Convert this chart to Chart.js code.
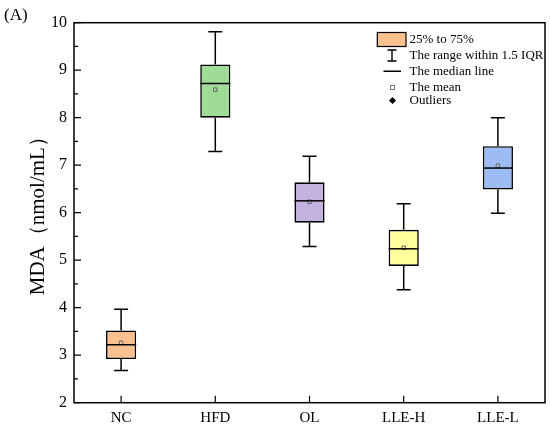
<!DOCTYPE html>
<html>
<head>
<meta charset="utf-8">
<script src="https://cdn.jsdelivr.net/npm/chart.js@4.4.0/dist/chart.umd.min.js"></script>
<style>
html,body{margin:0;padding:0;background:#fff;}
#wrap{width:550px;height:428px;position:relative;}
</style>
</head>
<body>
<div id="wrap"><canvas id="c"></canvas></div>
<script>
const categories = ['NC', 'HFD', 'OL', 'LLE-H', 'LLE-L'];
const whiskerLow = [2.68, 7.29, 5.29, 4.38, 5.99];
const q1 = [2.92, 8.00, 5.79, 4.88, 6.49];
const median = [3.22, 8.72, 6.25, 5.24, 6.94];
const q3 = [3.52, 9.12, 6.64, 5.64, 7.40];
const whiskerHigh = [3.97, 9.81, 7.19, 6.19, 8.00];
const means = [3.26, 8.59, 6.23, 5.26, 6.99];
const boxColors = ['#FAC090', '#A0DC98', '#C3B1DE', '#FFFF9E', '#9DBBF5'];
const yMin = 2, yMax = 10, yStep = 1;
const legendLabels = ['25% to 75%', 'The range within 1.5 IQR', 'The median line', 'The mean', 'Outliers'];
const titleText = '(A)';
const yTitle = 'MDA\uFF08nmol/mL\uFF09';

const SERIF = "'Liberation Serif','Times New Roman',serif";

const boxPlugin = {
  id: 'boxPlugin',
  beforeDatasetsDraw(chart) {
    const ctx = chart.ctx, x = chart.scales.x, y = chart.scales.y;
    ctx.save();
    ctx.strokeStyle = '#000';
    ctx.lineWidth = 1.5;
    categories.forEach((c, i) => {
      const cx = x.getPixelForValue(i);
      const yl = y.getPixelForValue(whiskerLow[i]);
      const yh = y.getPixelForValue(whiskerHigh[i]);
      const y1 = y.getPixelForValue(q1[i]);
      const y3 = y.getPixelForValue(q3[i]);
      ctx.beginPath();
      ctx.moveTo(cx, yh); ctx.lineTo(cx, y3);
      ctx.moveTo(cx, y1); ctx.lineTo(cx, yl);
      ctx.moveTo(cx - 7, yh); ctx.lineTo(cx + 7, yh);
      ctx.moveTo(cx - 7, yl); ctx.lineTo(cx + 7, yl);
      ctx.stroke();
    });
    ctx.restore();
  },
  afterDatasetsDraw(chart) {
    const ctx = chart.ctx, x = chart.scales.x, y = chart.scales.y;
    const meta = chart.getDatasetMeta(0);
    ctx.save();
    ctx.strokeStyle = '#000';
    ctx.lineWidth = 1.5;
    categories.forEach((c, i) => {
      const bar = meta.data[i];
      const half = bar.width / 2;
      const cx = x.getPixelForValue(i);
      const ym = y.getPixelForValue(median[i]);
      ctx.beginPath();
      ctx.moveTo(cx - half, ym); ctx.lineTo(cx + half, ym);
      ctx.stroke();
    });
    ctx.restore();
  },
  afterDraw(chart) {
    const ctx = chart.ctx, a = chart.chartArea, x = chart.scales.x, y = chart.scales.y;
    ctx.save();
    // frame
    ctx.strokeStyle = '#000';
    ctx.lineWidth = 1.5;
    ctx.strokeRect(a.left, a.top, a.right - a.left, a.bottom - a.top);
    // ticks inward
    ctx.lineWidth = 1.2;
    ctx.beginPath();
    for (let v = yMin; v <= yMax; v += yStep) {
      const py = y.getPixelForValue(v);
      ctx.moveTo(a.left, py); ctx.lineTo(a.left + 7, py);
      if (v < yMax) {
        const pm = y.getPixelForValue(v + yStep / 2);
        ctx.moveTo(a.left, pm); ctx.lineTo(a.left + 4, pm);
      }
    }
    categories.forEach((c, i) => {
      const px = x.getPixelForValue(i);
      ctx.moveTo(px, a.bottom); ctx.lineTo(px, a.bottom - 7);
    });
    ctx.stroke();

    // title
    ctx.fillStyle = '#000';
    ctx.font = '17px ' + SERIF;
    ctx.textAlign = 'left';
    ctx.textBaseline = 'alphabetic';
    ctx.fillText(titleText, 4, 20);

    // y axis title
    ctx.save();
    ctx.translate(43.5, (a.top + a.bottom) / 2 - 2);
    ctx.rotate(-Math.PI / 2);
    ctx.font = '21px ' + SERIF;
    ctx.textAlign = 'center';
    ctx.textBaseline = 'alphabetic';
    ctx.fillText(yTitle, 0, 0);
    ctx.restore();

    // legend
    const lx = 392, tx = 409.5;
    const rows = [40, 55.5, 71.3, 87.5, 100.5];
    ctx.font = '13px ' + SERIF;
    ctx.textBaseline = 'middle';
    ctx.textAlign = 'left';
    ctx.fillStyle = boxColors[0];
    ctx.fillRect(377.3, 32.5, 28.7, 14);
    ctx.strokeStyle = '#000';
    ctx.lineWidth = 1.2;
    ctx.strokeRect(377.3, 32.5, 28.7, 14);
    ctx.lineWidth = 1.4;
    ctx.beginPath();
    ctx.moveTo(lx, 50); ctx.lineTo(lx, 61);
    ctx.moveTo(lx - 4.5, 50); ctx.lineTo(lx + 4.5, 50);
    ctx.moveTo(lx - 4.5, 61); ctx.lineTo(lx + 4.5, 61);
    ctx.moveTo(lx - 8.5, rows[2]); ctx.lineTo(lx + 9, rows[2]);
    ctx.stroke();
    ctx.strokeStyle = '#777';
    ctx.lineWidth = 1;
    ctx.strokeRect(lx - 1.5, rows[3] - 2, 4, 4);
    ctx.fillStyle = '#000';
    ctx.beginPath();
    ctx.moveTo(lx + 0.5, rows[4] - 3.5); ctx.lineTo(lx + 4, rows[4]);
    ctx.lineTo(lx + 0.5, rows[4] + 3.5); ctx.lineTo(lx - 3, rows[4]);
    ctx.closePath(); ctx.fill();
    legendLabels.forEach((t, i) => ctx.fillText(t, tx, rows[i]));
    ctx.restore();
  }
};

new Chart(document.getElementById('c'), {
  data: {
    labels: categories,
    datasets: [
      {
        type: 'bar',
        order: 1,
        data: q1.map((v, i) => [v, q3[i]]),
        backgroundColor: boxColors,
        borderColor: '#000',
        borderWidth: 1.6,
        borderSkipped: false,
        categoryPercentage: 1,
        barPercentage: 0.32
      },
      {
        type: 'line',
        order: 0,
        data: means,
        showLine: false,
        pointStyle: 'rect',
        pointRadius: 2.5,
        pointBorderWidth: 1,
        pointBorderColor: '#666',
        pointBackgroundColor: 'rgba(0,0,0,0)'
      }
    ]
  },
  options: {
    responsive: true,
    maintainAspectRatio: false,
    animation: false,
    layout: { padding: { top: 22.7, right: 5, left: 0, bottom: 0 } },
    plugins: { legend: { display: false }, tooltip: { enabled: false } },
    scales: {
      x: {
        type: 'category',
        offset: true,
        grid: { display: false, drawTicks: false },
        border: { display: false },
        ticks: { color: '#000', font: { family: SERIF, size: 15 }, padding: 6 },
        afterFit(s) { s.height = 25.3; }
      },
      y: {
        type: 'linear',
        min: yMin, max: yMax,
        grid: { display: false, drawTicks: false },
        border: { display: false },
        ticks: { stepSize: yStep, color: '#000', font: { family: SERIF, size: 16 }, padding: 7 },
        afterFit(s) { s.width = 74; }
      }
    }
  },
  plugins: [boxPlugin]
});
</script>
</body>
</html>
